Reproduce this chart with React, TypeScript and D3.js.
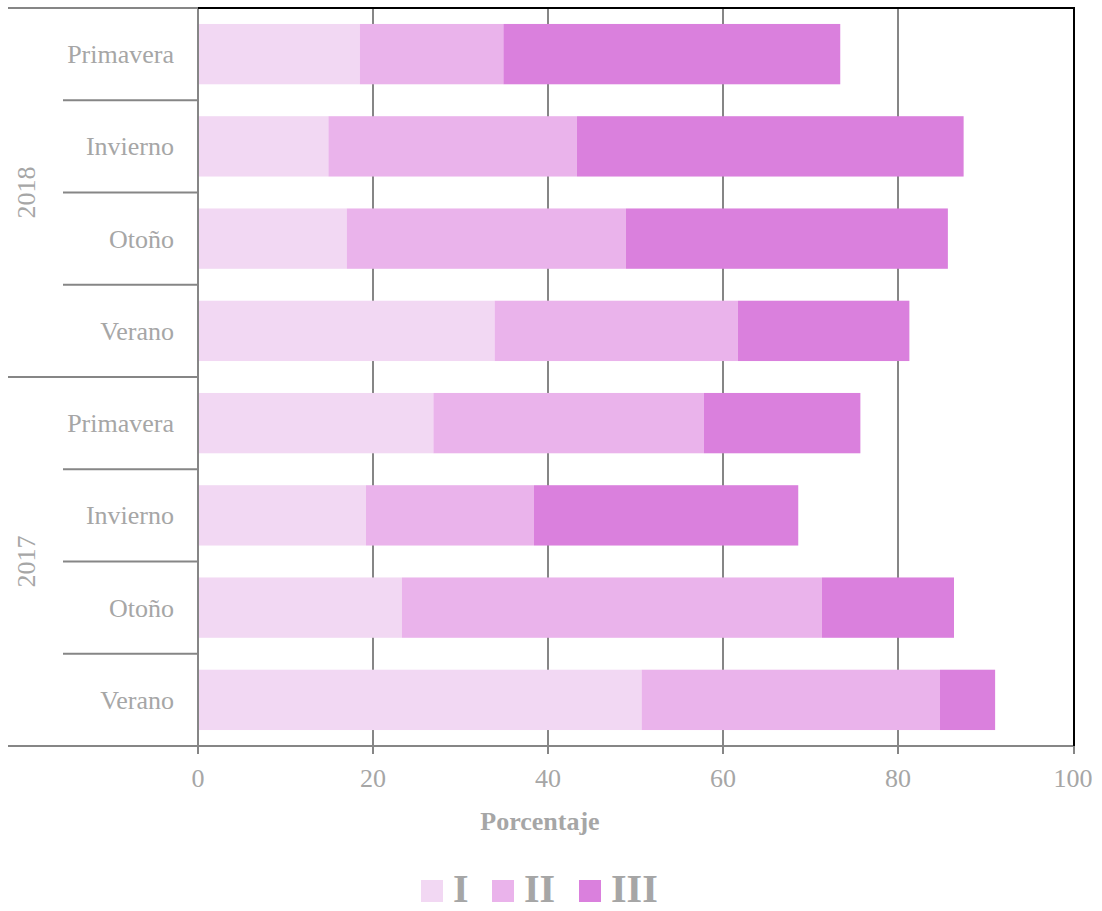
import React from "react";
import * as d3 from "d3";

const seasons = ["Primavera", "Invierno", "Otoño", "Verano", "Primavera", "Invierno", "Otoño", "Verano"];
const yearOf = ["2018", "2018", "2018", "2018", "2017", "2017", "2017", "2017"];
const years = ["2018", "2017"];
const seriesNames = ["I", "II", "III"];
const valuesI = [18.5, 14.9, 17.0, 33.9, 26.9, 19.2, 23.3, 50.7];
const valuesII = [16.4, 28.4, 31.9, 27.8, 30.9, 19.2, 48.0, 34.1];
const valuesIII = [38.5, 44.2, 36.8, 19.6, 17.9, 30.2, 15.1, 6.3];
const xTicks = [0, 20, 40, 60, 80, 100];
const colors = ["#F2D8F3", "#EAB3EB", "#DA80DD"];

const W = 1102, H = 911;
const L = 198, R = 1074, T = 8, B = 746;
const GRAY = "#A6A6A6";
const LINE = "#868686";
const FONT = "'Liberation Serif', 'Times New Roman', serif";

export default function App() {
  const keys = seasons.map((s, i) => `${yearOf[i]}-${i}`);
  const rows = keys.map((k, i) => ({ key: k, I: valuesI[i], II: valuesII[i], III: valuesIII[i] }));
  const stack = d3.stack<any>().keys(seriesNames);
  const stacked = stack(rows);

  const x = d3.scaleLinear().domain([0, 100]).range([L, R - 1]);
  const y = d3.scaleBand().domain(keys).range([T, B]).paddingInner(0.346).paddingOuter(0.173);
  const step = y.step();

  const groupBounds = years.map((yr) => {
    const idx = keys.map((k, i) => i).filter((i) => yearOf[i] === yr);
    const top = (y(keys[idx[0]]) as number) - y.paddingOuter() * step;
    const bot = (y(keys[idx[idx.length - 1]]) as number) + y.bandwidth() + y.paddingOuter() * step;
    return { yr, top, bot };
  });

  const legendX = [421, 492, 579];

  return (
    <svg width={W} height={H} style={{ position: "absolute", left: 0, top: 0, background: "#fff" }} fontFamily={FONT}>
      <rect x={0} y={0} width={W} height={H} fill="#fff" />
      {/* grid lines */}
      {xTicks.filter((t) => t > 0 && t < 100).map((t) => (
        <line key={t} x1={x(t)} x2={x(t)} y1={T} y2={B + 8} stroke={LINE} strokeWidth={2} />
      ))}
      {/* bars */}
      {stacked.map((s, si) => (
        <g key={s.key} fill={colors[si]}>
          {s.map((d, i) => (
            <rect key={i} x={x(d[0])} y={y(keys[i])} width={x(d[1]) - x(d[0])} height={y.bandwidth()} />
          ))}
        </g>
      ))}
      {/* row separators */}
      {keys.slice(0, -1).map((k, i) => {
        const yy = (y(k) as number) + y.bandwidth() + (step - y.bandwidth()) / 2;
        const isGroup = yearOf[i] !== yearOf[i + 1];
        return <line key={k} x1={isGroup ? 8 : 63} x2={L} y1={yy} y2={yy} stroke={LINE} strokeWidth={2} />;
      })}
      <line x1={8} x2={L} y1={T} y2={T} stroke={LINE} strokeWidth={2} />
      {/* axes */}
      <line x1={L} x2={L} y1={T} y2={B + 8} stroke={LINE} strokeWidth={2} />
      <line x1={8} x2={R} y1={B} y2={B} stroke={LINE} strokeWidth={2} />
      <line x1={L} x2={R} y1={T} y2={T} stroke="#000" strokeWidth={2} />
      <line x1={R} x2={R} y1={T - 1} y2={B} stroke="#000" strokeWidth={2} />
      <line x1={R} x2={R} y1={B} y2={B + 8} stroke={LINE} strokeWidth={2} />
      {/* tick labels */}
      {xTicks.map((t) => (
        <text key={t} x={x(t)} y={787} textAnchor="middle" fontSize={26} fill={GRAY}>{t}</text>
      ))}
      <text x={540} y={830} textAnchor="middle" fontSize={26} fontWeight="bold" fill={GRAY}>Porcentaje</text>
      {/* category labels */}
      {keys.map((k, i) => (
        <text key={k} x={174} y={(y(k) as number) + y.bandwidth() / 2 + 9} textAnchor="end" fontSize={26} fill={GRAY}>
          {seasons[i]}
        </text>
      ))}
      {groupBounds.map((g) => (
        <text key={g.yr} transform={`translate(35,${(g.top + g.bot) / 2}) rotate(-90)`} textAnchor="middle" fontSize={26} fill={GRAY}>
          {g.yr}
        </text>
      ))}
      {/* legend */}
      {seriesNames.map((n, i) => (
        <g key={n}>
          <rect x={legendX[i]} y={880} width={22} height={22} fill={colors[i]} />
          <text x={legendX[i] + 32} y={902} fontSize={40} fontWeight="bold" fill={GRAY}>{n}</text>
        </g>
      ))}
    </svg>
  );
}
